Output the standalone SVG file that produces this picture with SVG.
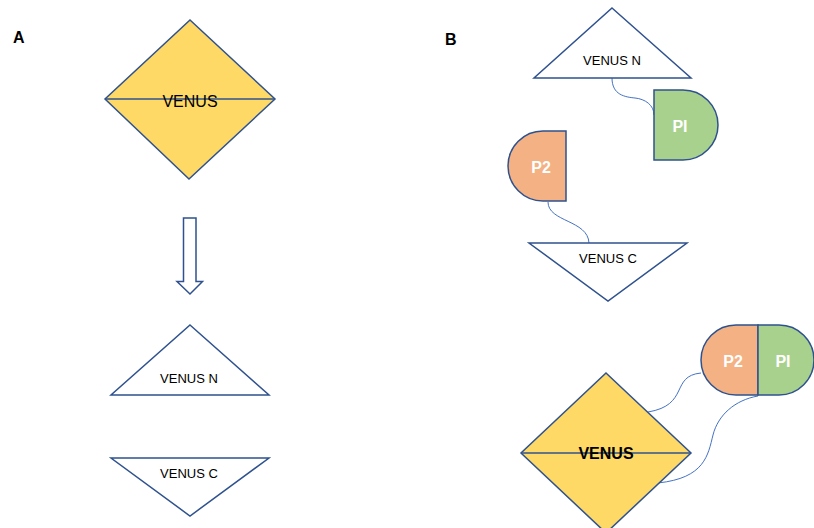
<svg xmlns="http://www.w3.org/2000/svg" width="814" height="528" viewBox="0 0 814 528">
<style>
.shape{stroke:#2F528F;stroke-width:1.5;stroke-linejoin:miter}
.venus{fill:#FFD966}
.tri{fill:#FFFFFF}
.p2{fill:#F4B183}
.pi{fill:#A9D18E}
.conn{fill:none;stroke:#4472C4;stroke-width:1}
.t{font-family:"Liberation Sans",Arial,sans-serif;fill:#000;text-anchor:middle}
.w{font-family:"Liberation Sans",Arial,sans-serif;fill:#FFFFFF;font-weight:bold;font-size:16px;text-anchor:middle}
.lab{font-family:"Liberation Sans",Arial,sans-serif;font-weight:bold;font-size:16px;fill:#000}
</style>
<rect width="814" height="528" fill="#FFFFFF"/>
<text class="lab" x="13" y="43">A</text>
<text class="lab" x="445" y="45">B</text>

<g id="connectors">
<path class="conn" d="M612,78 C612,95 625,97 635,98 S654,105 654,115"/>
<path class="conn" d="M548,202 C548,222 588,220 589,243"/>
<path class="conn" d="M648,412 C690,405 670,376 701,373"/>
<path class="conn" d="M658,483 C705,478 708,455 713,435 S735,400 758,396"/>
</g>

<g id="venusA">
<polygon class="shape venus" points="190,20 275,99 189,179 105,99"/>
<line class="shape" x1="105" y1="99" x2="275" y2="99"/>
<text class="t" x="190" y="107" font-size="16">VENUS</text>
</g>

<g id="arrowA">
<polygon class="shape" fill="#FFFFFF" points="183.5,218 196,218 196,281.5 202.5,281.5 190,294 177,281.5 183.5,281.5"/>
</g>

<g id="venusNA">
<polygon class="shape tri" points="190,325 269,395 111,395"/>
<text class="t" x="189" y="383" font-size="13">VENUS N</text>
</g>

<g id="venusCA">
<polygon class="shape tri" points="111,458 269,458 190,516"/>
<text class="t" x="189" y="478" font-size="13">VENUS C</text>
</g>

<g id="venusNB">
<polygon class="shape tri" points="612,8 691,78 534,78"/>
<text class="t" x="612" y="65" font-size="13">VENUS N</text>
</g>

<g id="piB">
<path class="shape pi" d="M654,90 L683,90 A35,35 0 0 1 683,160 L654,160 Z"/>
<text class="w" x="680" y="132">PI</text>
</g>

<g id="p2B">
<path class="shape p2" d="M566,131 L543,131 A35,35 0 0 0 543,201 L566,201 Z"/>
<text class="w" x="541" y="173">P2</text>
</g>

<g id="venusCB">
<polygon class="shape tri" points="529,243 687,243 608,301"/>
<text class="t" x="608" y="263" font-size="13">VENUS C</text>
</g>

<g id="pill">
<path class="shape p2" d="M758,325 L736,325 A35,35 0 0 0 736,395 L758,395 Z"/>
<path class="shape pi" d="M758,325 L779,325 A35,35 0 0 1 779,395 L758,395 Z"/>
<text class="w" x="733" y="367">P2</text>
<text class="w" x="783" y="367">PI</text>
</g>

<g id="venusB">
<polygon class="shape venus" points="606,373 691,453 606,533 521,453"/>
<line class="shape" x1="521" y1="453" x2="691" y2="453"/>
<text class="t" x="606" y="459" font-size="16" font-weight="bold">VENUS</text>
</g>
</svg>
